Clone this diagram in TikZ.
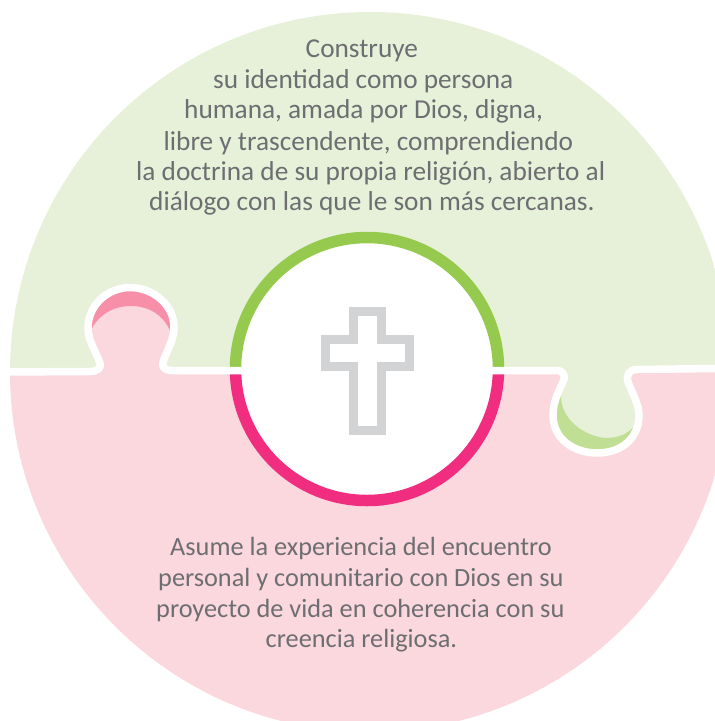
\documentclass[tikz,border=0pt]{standalone}
\usepackage{fontspec}
\setmainfont{Carlito}
\definecolor{palegreen}{HTML}{E7F1D9}
\definecolor{palepink}{HTML}{FBD7DE}
\definecolor{ringgreen}{HTML}{96CA4F}
\definecolor{ringpink}{HTML}{F12D7F}
\definecolor{crossgray}{HTML}{D1D3D4}
\definecolor{darkpink}{HTML}{F88FA9}
\definecolor{darkgreen}{HTML}{C0DE94}
\definecolor{textgray}{HTML}{6D6E71}
\newcommand{\seam}{(0,372) -- (90,371.5)
 .. controls (98,371.5) and (102,367) .. (100,363)
 .. controls (95,350) and (88,340) .. (88,328)
 .. controls (88,305) and (108,287.5) .. (130,287.5)
 .. controls (153,287.5) and (174,305) .. (174,327)
 .. controls (174,340) and (167,350) .. (163,362)
 .. controls (161,367) and (165,370.5) .. (172,370.5)
 -- (556,370.5)
 .. controls (564,370.5) and (566,376) .. (563,382)
 .. controls (558,392) and (553,403) .. (553,415)
 .. controls (553,440) and (575,453) .. (597,453)
 .. controls (622,453) and (639,438) .. (639,415)
 .. controls (639,405) and (632,392) .. (628,382)
 .. controls (626,375) and (629,369.5) .. (637,369.5)
 -- (715,368.5)}
\tikzset{
 seamline/.style={draw=white,line width=7.5pt,line join=round},
 ringline/.style={line width=11.5pt},
 label/.style={text=textgray,font=\fontsize{27.3}{30}\selectfont,anchor=base west,inner sep=0pt},
 lowerlabel/.style={label,font=\fontsize{26.3}{30}\selectfont}
}
\begin{document}
\begin{tikzpicture}[x=1pt,y=-1pt]
\useasboundingbox (0,0) rectangle (715,721);
\clip (0,0) rectangle (715,721);
\begin{scope}
 \clip (370,372) circle[radius=360pt];
 \fill[palegreen] \seam -- (715,0) -- (0,0) -- cycle;
 \fill[palepink] \seam -- (715,721) -- (0,721) -- cycle;
 % crescents inside the two tabs
 \fill[darkpink] (90,332) .. controls (88,305) and (108,287.5) .. (130,287.5)
   .. controls (153,287.5) and (174,305) .. (172,335)
   .. controls (165,316) and (150,306) .. (131,306)
   .. controls (112,306) and (97,316) .. (90,332) -- cycle;
 \fill[darkgreen] (561,394) .. controls (556,403) and (553,408) .. (553,415)
   .. controls (553,440) and (575,453) .. (597,453)
   .. controls (615,453) and (629,443) .. (636,424)
   .. controls (628,435) and (617,438) .. (605,438)
   .. controls (585,436) and (560,420) .. (561,394) -- cycle;
 % centre ring
 \fill[white] (367,369) circle[radius=127pt];
 \draw[ringline,ringgreen] (235.5,369) arc[start angle=180,end angle=0,radius=131.5pt];
 \draw[ringline,ringpink] (235.5,369) arc[start angle=180,end angle=360,radius=131.5pt];
 \draw[seamline] \seam;
\end{scope}
% cross
\draw[crossgray,line width=9pt,miter limit=4]
  (353,311) -- (381,311) -- (381,339) -- (409,339) -- (409,366.5) -- (381,366.5)
  -- (381,430.5) -- (353,430.5) -- (353,366.5) -- (325.5,366.5) -- (325.5,339) -- (353,339) -- cycle;
% upper text
\node[label] (u1) at (305.5,57.7) {Construye};
\node[label] (u2) at (213,88.7) {su identidad como persona};
\node[label] (u3) at (184,118.7) {humana, amada por Dios, digna,};
\node[label] (u4) at (163.5,150) {libre y trascendente, comprendiendo};
\node[label] (u5) at (136,180.7) {la doctrina de su propia religión, abierto al};
\node[label] (u6) at (149,210.7) {diálogo con las que le son más cercanas.};
% lower text
\node[lowerlabel] (l1) at (170,555) {Asume la experiencia del encuentro};
\node[lowerlabel] (l2) at (158,586) {personal y comunitario con Dios en su};
\node[lowerlabel] (l3) at (156,617) {proyecto de vida en coherencia con su};
\node[lowerlabel] (l4) at (265.5,647) {creencia religiosa.};
\end{tikzpicture}
\end{document}
